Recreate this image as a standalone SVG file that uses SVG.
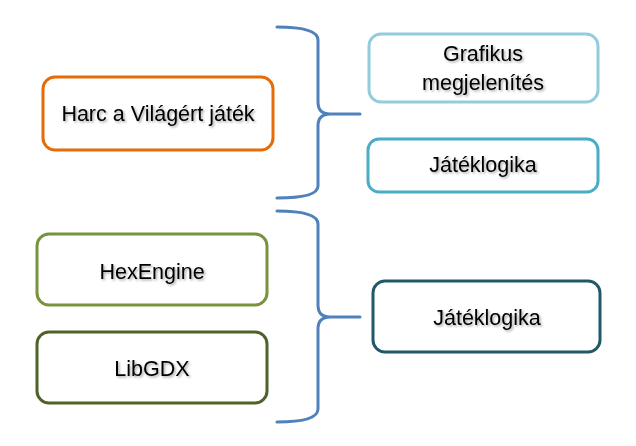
<svg xmlns="http://www.w3.org/2000/svg" width="636" height="446" viewBox="0 0 636 446">
<defs>
<filter id="ts" x="-10%" y="-30%" width="120%" height="160%">
<feDropShadow dx="1.5" dy="1.5" stdDeviation="1" flood-color="#000" flood-opacity="0.35"/>
</filter>
</defs>
<style>
.box{fill:#fff;stroke-width:3}
.lbl{font-family:"Liberation Sans",Arial,sans-serif;font-size:21.5px;fill:#000;text-anchor:middle;filter:url(#ts)}
.brace{fill:none;stroke:#4F81BD;stroke-width:3;stroke-linecap:round;stroke-linejoin:round}
</style>
<rect width="636" height="446" fill="#fff"/>
<g id="connectors">
<path class="brace" d="M277,27 Q318,27 318,40 L318,102 Q318,114 330,114 L360,114 M330,114 Q318,114 318,126 L318,186 Q318,198 277,198"/>
<path class="brace" d="M277,211 Q318,211 318,224 L318,305 Q318,317 330,317 L360,317 M330,317 Q318,317 318,329 L318,409 Q318,422 277,422"/>
</g>
<g id="harc">
<rect class="box" x="43" y="77" width="230" height="73" rx="12" stroke="#E46C0A"/>
<text class="lbl" x="158" y="121">Harc a Világért játék</text>
</g>
<g id="grafikus">
<rect class="box" x="369" y="34" width="229" height="68" rx="12" stroke="#93CDDD"/>
<text class="lbl" x="483" y="61">Grafikus</text>
<text class="lbl" x="483" y="90">megjelenítés</text>
</g>
<g id="jateklogika1">
<rect class="box" x="368" y="139" width="230" height="53" rx="11" stroke="#4BACC6"/>
<text class="lbl" x="483" y="172">Játéklogika</text>
</g>
<g id="hexengine">
<rect class="box" x="37" y="234" width="230" height="71" rx="12" stroke="#77933C"/>
<text class="lbl" x="152" y="279">HexEngine</text>
</g>
<g id="libgdx">
<rect class="box" x="37" y="332" width="230" height="71" rx="12" stroke="#4F6228"/>
<text class="lbl" x="152" y="376">LibGDX</text>
</g>
<g id="jateklogika2">
<rect class="box" x="373" y="281" width="227" height="71" rx="12" stroke="#215968"/>
<text class="lbl" x="487" y="325">Játéklogika</text>
</g>
</svg>
